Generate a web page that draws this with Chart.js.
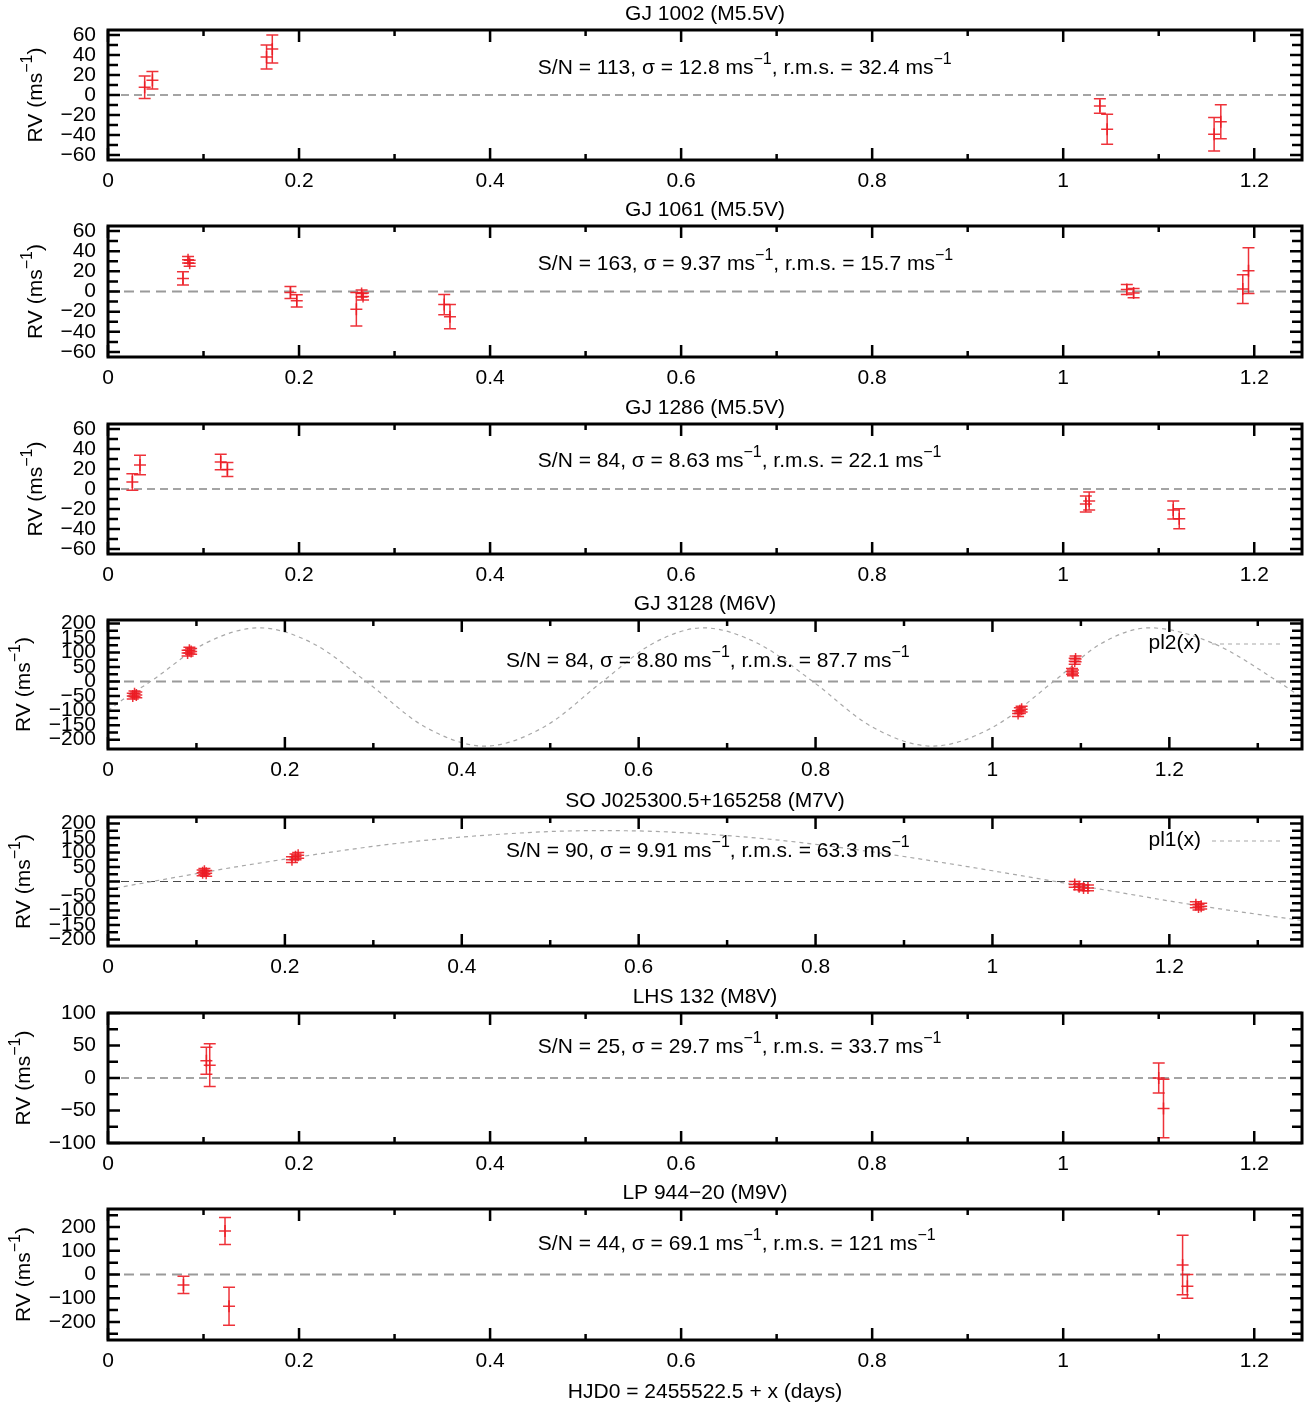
<!DOCTYPE html>
<html><head><meta charset="utf-8">
<script src="https://cdn.jsdelivr.net/npm/chart.js@4.4.1/dist/chart.umd.min.js"></script>
<style>
html,body{margin:0;padding:0;background:#fff;}
body{width:1314px;height:1407px;position:relative;overflow:hidden;}
canvas{position:absolute;left:0;}
</style></head><body>
<script>
const RED = 'rgba(236,28,36,0.9)';
const FONT = '"Liberation Sans", Arial, Helvetica, sans-serif';
const FS = 21;

// ---------- data ----------
const gj1002X = [0.0384, 0.0465, 0.166, 0.172, 1.0384, 1.046, 1.158, 1.165];
const gj1002Y = [7.7, 14.7, 38, 46, -11, -34.3, -39.3, -26.7];
const gj1002E = [11.3, 8.7, 12, 14, 7.3, 15, 16.7, 17];

const gj1061X = [0.0785, 0.0838, 0.0855, 0.191, 0.1976, 0.260, 0.2655, 0.267, 0.352, 0.358, 1.0666, 1.0737, 1.188, 1.194];
const gj1061Y = [13, 31.5, 28, -1, -9.3, -17.6, -2, -5, -13, -25, 2, -1.6, 2.4, 20.7];
const gj1061E = [6.5, 3.2, 3, 6, 6, 16.7, 3.5, 3.5, 10, 12, 5, 4.7, 14.3, 22.7];

const gj1286X = [0.0255, 0.0335, 0.118, 0.125, 1.0237, 1.0272, 1.1152, 1.1215];
const gj1286Y = [7, 24, 27, 19.6, -15, -12, -21, -29.7];
const gj1286E = [8.3, 9.7, 7.7, 7, 8, 9, 9, 10];

const gj3128X = [0.028, 0.030, 0.032, 0.090, 0.092, 0.094, 1.029, 1.031, 1.033, 1.090, 1.091, 1.093, 1.094];
const gj3128Y = [-50, -42, -46, 98, 108, 104, -110, -100, -95, 35, 30, 70, 78];
const gj3128E = [10, 10, 10, 10, 10, 10, 10, 10, 10, 10, 10, 10, 10];

const soX = [0.107, 0.109, 0.111, 0.208, 0.212, 0.215, 1.093, 1.098, 1.103, 1.108, 1.230, 1.233, 1.236];
const soY = [30, 35, 28, 75, 85, 90, -10, -18, -22, -22, -80, -88, -85];
const soE = [10, 10, 10, 10, 10, 10, 10, 10, 10, 10, 10, 10, 10];

const lhsX = [0.103, 0.1065, 1.100, 1.105];
const lhsY = [26.6, 19.8, 0, -47];
const lhsE = [20.8, 32.8, 23, 45];

const lpX = [0.079, 0.1225, 0.1267, 1.125, 1.130];
const lpY = [-44, 183, -134, 40, -50];
const lpE = [36.5, 57, 80, 125, 50];

// fitted curves (extrema, zero crossings and mid points)
const pl2X = [0, 0.02, 0.048, 0.1095, 0.171, 0.232, 0.292, 0.359, 0.426, 0.4925, 0.559, 0.616, 0.673, 0.735, 0.797, 0.8645, 0.932, 1.0005, 1.069, 1.123, 1.177, 1.25, 1.323, 1.35];
const pl2Y = [-100, -55, 0, 131, 185, 131, 0, -157, -222, -157, 0, 131, 185, 131, 0, -157, -222, -157, 0, 131, 185, 131, 0, -55];
const pl1X = [0,0.05,0.1,0.15,0.2,0.25,0.3,0.35,0.4,0.45,0.5,0.55,0.6,0.65,0.7,0.75,0.8,0.85,0.9,0.95,1,1.05,1.1,1.15,1.2,1.25,1.3,1.35];
const pl1Y = [-27,0,27,53,77,100,121,139,153,164,172,175,174,168,158,145,128,108,86,62,37,11,-15,-41,-67,-91,-113,-134];

// ticks
const xTicks125 = [0,0.1,0.2,0.3,0.4,0.5,0.6,0.7,0.8,0.9,1,1.1,1.2];
const xTicks135 = [0,0.1,0.2,0.3,0.4,0.5,0.6,0.7,0.8,0.9,1,1.1,1.2,1.3];
const xLabels = [0,0.2,0.4,0.6,0.8,1,1.2];
const yTicks60 = [-60,-50,-40,-30,-20,-10,0,10,20,30,40,50,60];
const yLabels60 = [-60,-40,-20,0,20,40,60];
const yTicks200 = [-200,-175,-150,-125,-100,-75,-50,-25,0,25,50,75,100,125,150,175,200];
const yLabels200 = [-200,-150,-100,-50,0,50,100,150,200];
const yTicks100 = [-100,-75,-50,-25,0,25,50,75,100];
const yLabels100 = [-100,-50,0,50,100];
const yTicks250 = [-250,-200,-150,-100,-50,0,50,100,150,200,250];
const yLabels250 = [-200,-100,0,100,200];

const titles = ['GJ 1002 (M5.5V)','GJ 1061 (M5.5V)','GJ 1286 (M5.5V)','GJ 3128 (M6V)','SO J025300.5+165258 (M7V)','LHS 132 (M8V)','LP 944\u221220 (M9V)'];
const notes = [
  ['113','12.8','32.4'],['163','9.37','15.7'],['84','8.63','22.1'],['84','8.80','87.7'],
  ['90','9.91','63.3'],['25','29.7','33.7'],['44','69.1','121']
];

const DARK = {color:'#4a4a4a', width:1.2, dash:[8,5]};
const LIGHT = {color:'#9a9a9a', width:2, dash:[10,6]};

const panels = [
  {top:30,  h:130, xmax:1.25, ymin:-65,  ymax:65,  xTicks:xTicks125, yTicks:yTicks60,  yLabels:yLabels60,  xs:gj1002X, ys:gj1002Y, es:gj1002E, zero:DARK,  noteDY:38, yTitleX:36},
  {top:226, h:131, xmax:1.25, ymin:-65,  ymax:65,  xTicks:xTicks125, yTicks:yTicks60,  yLabels:yLabels60,  xs:gj1061X, ys:gj1061Y, es:gj1061E, zero:LIGHT, noteDY:38, yTitleX:36},
  {top:424, h:130, xmax:1.25, ymin:-65,  ymax:65,  xTicks:xTicks125, yTicks:yTicks60,  yLabels:yLabels60,  xs:gj1286X, ys:gj1286Y, es:gj1286E, zero:DARK,  noteDY:37, yTitleX:36},
  {top:620, h:129, xmax:1.35, ymin:-232, ymax:212, xTicks:xTicks135, yTicks:yTicks200, yLabels:yLabels200, xs:gj3128X, ys:gj3128Y, es:gj3128E, zero:LIGHT, noteDY:41, yTitleX:24, curveX:pl2X, curveY:pl2Y, legend:'pl2(x)'},
  {top:817, h:129, xmax:1.35, ymin:-222, ymax:222, xTicks:xTicks135, yTicks:yTicks200, yLabels:yLabels200, xs:soX, ys:soY, es:soE, zero:DARK, noteDY:34, yTitleX:24, curveX:pl1X, curveY:pl1Y, legend:'pl1(x)'},
  {top:1013,h:130, xmax:1.25, ymin:-100, ymax:100, xTicks:xTicks125, yTicks:yTicks100, yLabels:yLabels100, xs:lhsX, ys:lhsY, es:lhsE, zero:DARK, noteDY:34, yTitleX:24},
  {top:1209,h:131, xmax:1.25, ymin:-276, ymax:276, xTicks:xTicks125, yTicks:yTicks250, yLabels:yLabels250, xs:lpX, ys:lpY, es:lpE, zero:LIGHT, noteDY:35, yTitleX:24, last:true}
];

// ---------- helpers ----------
const near = (arr, v) => arr.some(m => Math.abs(m - v) < 1e-9);
const fmtY = v => v < 0 ? '\u2212' + Math.abs(v) : String(v);
const fmtX = v => String(Math.round(v * 10) / 10);

function rich(ctx, parts, x, y, align, size) {
  const base = size + 'px ' + FONT;
  const sup = Math.round(size * 0.78) + 'px ' + FONT;
  let w = 0;
  parts.forEach(([t, s]) => { ctx.font = s ? sup : base; w += ctx.measureText(t).width; });
  let cx = align === 'center' ? x - w / 2 : (align === 'right' ? x - w : x);
  ctx.textAlign = 'left';
  ctx.textBaseline = 'middle';
  parts.forEach(([t, s]) => {
    ctx.font = s ? sup : base;
    ctx.fillText(t, cx, s ? y - size * 0.4 : y);
    cx += ctx.measureText(t).width;
  });
}

const deco = {
  id: 'deco',
  afterDatasetsDraw(chart, args, o) {
    const p = o.panel, ctx = chart.ctx, xs = chart.scales.x, ys = chart.scales.y;
    ctx.save();
    ctx.strokeStyle = RED; ctx.lineWidth = 1.5;
    p.xs.forEach((xv, i) => {
      const px = xs.getPixelForValue(xv);
      const y1 = ys.getPixelForValue(p.ys[i] + p.es[i]);
      const y2 = ys.getPixelForValue(p.ys[i] - p.es[i]);
      ctx.beginPath();
      ctx.moveTo(px, y1); ctx.lineTo(px, y2);
      ctx.moveTo(px - 6, y1); ctx.lineTo(px + 6, y1);
      ctx.moveTo(px - 6, y2); ctx.lineTo(px + 6, y2);
      ctx.stroke();
    });
    ctx.restore();
  },
  afterDraw(chart, args, o) {
    const p = o.panel, idx = o.idx, ctx = chart.ctx, a = chart.chartArea;
    const xs = chart.scales.x, ys = chart.scales.y;
    ctx.save();
    // inward ticks
    ctx.strokeStyle = '#000'; ctx.lineWidth = 2.5;
    ctx.beginPath();
    xs.ticks.forEach(t => {
      const px = xs.getPixelForValue(t.value);
      const L = near(xLabels, t.value) ? 12 : 6;
      ctx.moveTo(px, a.bottom); ctx.lineTo(px, a.bottom - L);
      ctx.moveTo(px, a.top); ctx.lineTo(px, a.top + L);
    });
    ys.ticks.forEach(t => {
      const py = ys.getPixelForValue(t.value);
      const L = near(p.yLabels, t.value) ? 12 : 10;
      ctx.moveTo(a.left, py); ctx.lineTo(a.left + L, py);
      ctx.moveTo(a.right, py); ctx.lineTo(a.right - L, py);
    });
    ctx.stroke();
    // frame
    ctx.lineWidth = 3;
    ctx.strokeRect(a.left, a.top, a.right - a.left, a.bottom - a.top);
    ctx.fillStyle = '#000';
    // title
    ctx.font = FS + 'px ' + FONT; ctx.textAlign = 'center'; ctx.textBaseline = 'middle';
    ctx.fillText(titles[idx], (a.left + a.right) / 2, a.top - 16);
    // note
    const n = notes[idx];
    rich(ctx, [['S/N = ' + n[0] + ', \u03c3 = ' + n[1] + ' ms', 0], ['\u22121', 1], [', r.m.s. = ' + n[2] + ' ms', 0], ['\u22121', 1]],
      xs.getPixelForValue(0.45), a.top + p.noteDY, 'left', FS);
    // y title
    ctx.save();
    ctx.translate(p.yTitleX, (a.top + a.bottom) / 2);
    ctx.rotate(-Math.PI / 2);
    rich(ctx, [['RV (ms', 0], ['\u22121', 1], [')', 0]], 0, 0, 'center', FS);
    ctx.restore();
    // legend
    if (p.legend) {
      ctx.font = FS + 'px ' + FONT; ctx.textAlign = 'right'; ctx.textBaseline = 'middle';
      ctx.fillText(p.legend, 1201, a.top + 23);
      ctx.strokeStyle = '#a8a8a8'; ctx.lineWidth = 1.2; ctx.setLineDash([4, 4]);
      ctx.beginPath(); ctx.moveTo(1212, a.top + 24); ctx.lineTo(1281, a.top + 24); ctx.stroke();
      ctx.setLineDash([]);
    }
    if (p.last) {
      ctx.font = FS + 'px ' + FONT; ctx.textAlign = 'center'; ctx.textBaseline = 'middle';
      ctx.fillText('HJD0 = 2455522.5 + x (days)', (a.left + a.right) / 2, a.bottom + 52);
    }
    ctx.restore();
  }
};

panels.forEach((p, idx) => {
  const xAxisH = p.last ? 67 : 40;
  const H = 32 + p.h + xAxisH;
  const c = document.createElement('canvas');
  c.width = 1314; c.height = H;
  c.style.width = '1314px'; c.style.height = H + 'px';
  c.style.top = (p.top - 32) + 'px';
  document.body.appendChild(c);

  const datasets = [
    {type: 'line', data: [{x: 0, y: 0}, {x: p.xmax, y: 0}], borderColor: p.zero.color, borderWidth: p.zero.width,
     borderDash: p.zero.dash, pointRadius: 0, order: 3},
  ];
  if (p.curveX) {
    datasets.push({type: 'line', data: p.curveX.map((x, k) => ({x, y: p.curveY[k]})), borderColor: '#a8a8a8',
      borderWidth: 1.2, borderDash: [4, 4], pointRadius: 0, cubicInterpolationMode: 'monotone', order: 2});
  }
  datasets.push({type: 'scatter', data: p.xs.map((x, k) => ({x, y: p.ys[k]})), pointStyle: 'cross', pointRadius: 6,
    pointBorderWidth: 1.5, borderColor: RED, backgroundColor: RED, pointHoverRadius: 6, order: 1});

  const tickFont = {family: FONT, size: FS};
  new Chart(c, {
    data: {datasets},
    options: {
      responsive: false, animation: false, devicePixelRatio: 1,
      layout: {padding: {top: 32, left: 0, right: 12, bottom: 0}},
      plugins: {legend: {display: false}, tooltip: {enabled: false}, deco: {panel: p, idx}},
      scales: {
        x: {type: 'linear', min: 0, max: p.xmax,
            grid: {display: false, drawTicks: false}, border: {display: false},
            ticks: {autoSkip: false, maxRotation: 0, padding: 9, color: '#000', font: tickFont,
                    callback: v => near(xLabels, v) ? fmtX(v) : ''},
            afterBuildTicks: s => { s.ticks = p.xTicks.map(v => ({value: v})); },
            afterFit: s => { s.height = xAxisH; }},
        y: {type: 'linear', min: p.ymin, max: p.ymax,
            grid: {display: false, drawTicks: false}, border: {display: false},
            ticks: {autoSkip: false, padding: 12, color: '#000', font: tickFont,
                    callback: v => near(p.yLabels, v) ? fmtY(v) : ''},
            afterBuildTicks: s => { s.ticks = p.yTicks.map(v => ({value: v})); },
            afterFit: s => { s.width = 108; }}
      }
    },
    plugins: [deco]
  });
});
</script>
</body></html>
